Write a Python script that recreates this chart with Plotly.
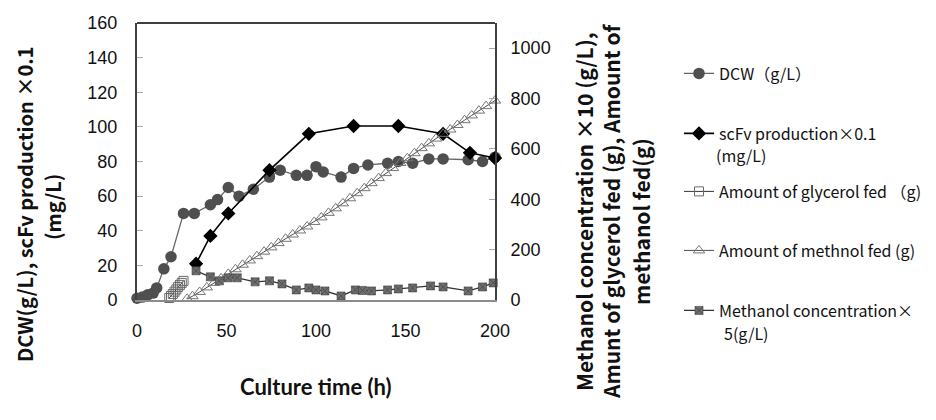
import plotly.graph_objects as go

# ---- data ----
dcw_time = [0, 3, 6, 9, 11, 15, 19, 26, 32, 41, 45, 51, 57, 65, 74, 80, 89, 95, 100, 104, 114, 121, 129, 140, 146, 154, 163, 171, 185, 193, 200]
dcw_vals = [1, 1.7, 3, 4, 7, 18, 25, 50, 50, 55, 58, 65, 60, 64, 71, 75, 72, 72, 77, 74, 71, 76, 78, 79, 80, 79, 81.5, 81.5, 81, 80, 82.5]

scfv_time = [33, 41, 51, 74, 96, 121, 146, 171, 186, 200]
scfv_vals = [21, 37, 50, 75, 96, 100.5, 100.5, 96, 85, 82]

gly_time = [18, 19, 20, 21, 22, 23, 24, 25, 26]
gly_vals = [8, 16, 24, 33, 42, 52, 60, 68, 76]

mfed_time = [28, 31, 35, 39, 43, 47, 51, 55, 59, 63, 67, 71, 75, 79, 83, 87, 91, 95, 99, 103, 107, 111,
             115, 119, 123, 127, 131, 135, 139, 143, 147, 151, 155, 159, 163, 167, 171, 175, 179, 183, 187, 191, 195, 200]
mfed_vals = [5, 15, 32, 50, 68, 86, 104, 122, 140, 157, 174, 192, 209, 226, 243, 260, 276, 292, 310, 328, 346, 364,
             384, 404, 424, 444, 464, 484, 504, 524, 544, 563, 583, 603, 622, 641, 660, 677, 695, 714, 733, 752, 770, 792]

mc_time = [33, 41, 46, 51, 56, 66, 74, 81, 89, 96, 100, 105, 114, 122, 126, 131, 140, 146, 154, 164, 171, 185, 193, 199]
mc_vals = [116, 92, 76, 88, 88, 72, 76, 64, 40, 48, 40, 36, 16, 40, 38, 36, 40, 44, 48, 56, 52, 36, 52, 68]

left_ticks = [0, 20, 40, 60, 80, 100, 120, 140, 160]
right_ticks = [0, 200, 400, 600, 800, 1000]
x_ticks = [0, 50, 100, 150, 200]

names = ["DCW（g/L）", "scFv production×0.1", "Amount of glycerol fed （g)",
         "Amount of methnol fed (g)", "Methanol concentration×"]
name_second_lines = ["(mg/L)", "5(g/L)"]

# ---- layout geometry: screen px of the reference; the page body adds an 8px offset ----
OFF = 8
W, H = 936 - 2 * OFF, 420 - 2 * OFF
L, R, T, B = 137, 495, 23, 300          # plot area in screen px
pw, ph = R - L, B - T

def px_x(x):
    return (x - L) / pw

def px_y(y):
    return (B - y) / ph

JP = "Noto Sans CJK JP"
fig = go.Figure()

fig.add_trace(go.Scatter(x=dcw_time, y=dcw_vals, name=names[0], mode="lines+markers",
                         line=dict(color="#666666", width=1.3),
                         marker=dict(symbol="circle", size=11.5, color="#4f4f4f"),
                         cliponaxis=False, legend="legend"))
fig.add_trace(go.Scatter(x=scfv_time, y=scfv_vals, name=names[1], mode="lines+markers",
                         line=dict(color="#000000", width=1.6),
                         marker=dict(symbol="diamond", size=11, color="#000000"),
                         cliponaxis=False, legend="legend2"))
fig.add_trace(go.Scatter(x=gly_time, y=gly_vals, name=names[2], mode="lines+markers", yaxis="y2",
                         line=dict(color="#333333", width=1),
                         marker=dict(symbol="square-open", size=9, color="#6a6a6a", line=dict(width=1)),
                         cliponaxis=False, legend="legend3"))
fig.add_trace(go.Scatter(x=mfed_time, y=mfed_vals, name=names[3], mode="lines+markers", yaxis="y2",
                         line=dict(color="#222222", width=0.8),
                         marker=dict(symbol="triangle-up-open", size=10, color="#777777", line=dict(width=1)),
                         cliponaxis=False, legend="legend4"))
fig.add_trace(go.Scatter(x=mc_time, y=mc_vals, name=names[4], mode="lines+markers", yaxis="y2",
                         line=dict(color="#333333", width=1.3),
                         marker=dict(symbol="square-x", size=8, color="#6e6e6e",
                                     line=dict(color="#3c3c3c", width=0.6)),
                         cliponaxis=False, legend="legend5"))

tickfont = dict(family="Liberation Sans", size=18, color="#111111")
legfont = dict(family=JP, size=16, color="#111111")

legend_common = dict(x=px_x(671 + OFF), xanchor="left", yanchor="top", bgcolor="rgba(0,0,0,0)",
                     font=legfont, valign="top", itemwidth=30, borderwidth=0)
leg_centers = [72, 132, 190, 249, 309]   # screen y of first text line
legends = {}
for i, key in enumerate(["legend", "legend2", "legend3", "legend4", "legend5"]):
    d = dict(legend_common)
    d["y"] = px_y(leg_centers[i] - 15.5)
    legends[key] = d

fig.update_layout(
    width=W, height=H,
    margin=dict(l=L - OFF, r=936 - OFF - R, t=T - OFF, b=420 - OFF - B, autoexpand=False),
    paper_bgcolor="white", plot_bgcolor="white",
    showlegend=True,
    xaxis=dict(range=[0, 200], tickvals=x_ticks, ticks="", showgrid=False, zeroline=False,
               showline=True, linecolor="#8c8c8c", linewidth=2, tickfont=tickfont,
               ticklabelstandoff=13),
    yaxis=dict(range=[0, 160], tickvals=left_ticks, ticks="inside", ticklen=6, tickcolor="#aaaaaa",
               showgrid=False, zeroline=False, showline=True, linecolor="#404040", linewidth=2,
               tickfont=tickfont, ticklabelstandoff=14),
    yaxis2=dict(range=[0, 1100], tickvals=right_ticks, overlaying="y", side="right", ticks="inside",
                ticklen=6, tickcolor="#aaaaaa", showgrid=False, zeroline=False, showline=True,
                linecolor="#404040", linewidth=2, tickfont=tickfont, ticklabelstandoff=10),
    shapes=[dict(type="line", xref="paper", yref="paper", x0=0, x1=1, y0=1, y1=1,
                 line=dict(color="#404040", width=2))],
    **legends,
)

title_font = dict(family=JP, size=20, color="#111111", weight="bold")
ann = []
# left axis title (two lines)
for xp, txt, yc in [(24, "DCW(g/L), scFv production ×0.1", 205), (52, "(mg/L)", 207)]:
    ann.append(dict(text=txt, xref="paper", yref="paper", x=px_x(xp), y=px_y(yc), xanchor="center",
                    yanchor="middle", textangle=-90, showarrow=False, font=title_font))
# right axis title (three lines)
for xp, txt, yc in [(584, "Methanol concentration ×10 (g/L),", 212),
                    (611, "Amunt of glycerol fed (g), Amount of", 212),
                    (641, "methanol fed(g)", 222)]:
    ann.append(dict(text=txt, xref="paper", yref="paper", x=px_x(xp), y=px_y(yc), xanchor="center",
                    yanchor="middle", textangle=-90, showarrow=False,
                    font=dict(family=JP, size=21, color="#111111", weight="bold")))
# second lines of the two-line legend entries
for xp, txt, yc in [(714, name_second_lines[0], 155), (722, name_second_lines[1], 333)]:
    ann.append(dict(text=txt, xref="paper", yref="paper", x=px_x(xp), y=px_y(yc), xanchor="left",
                    yanchor="middle", showarrow=False, font=legfont))
# x axis title
ann.append(dict(text="Culture time (h)", xref="paper", yref="paper", x=px_x(316), y=px_y(386),
                xanchor="center", yanchor="middle", showarrow=False,
                font=dict(family="Lato", size=22, color="#111111", weight="bold")))
fig.update_layout(annotations=ann)

fig.write_html("out.html")
